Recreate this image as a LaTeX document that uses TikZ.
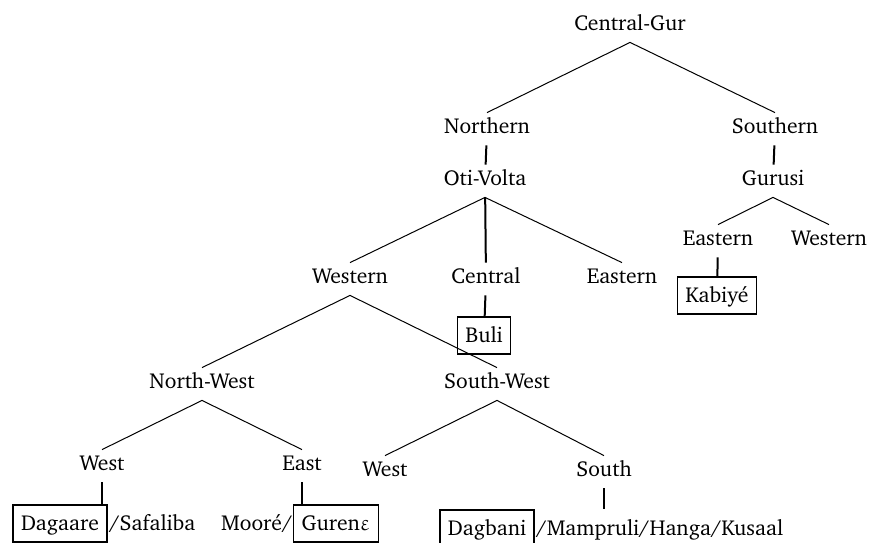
\documentclass[tikz,border=0pt]{standalone}
\usepackage[T1]{fontenc}
\usepackage{charter}
\usepackage{upgreek}
\usetikzlibrary{positioning}

\begin{document}
\begin{tikzpicture}[x=0.5pt,y=0.5pt,font=\fontsize{10.8}{13}\selectfont]
\tikzstyle{every node}+=[inner xsep=2pt,inner ysep=3pt,text height=7pt,text depth=3pt,anchor=base]
\tikzstyle{lang}=[draw,line width=0.7pt,inner xsep=4pt,inner ysep=4.5pt,text height=8pt,text depth=1.5pt]
\tikzstyle{alt}=[inner sep=0pt]
\tikzstyle{branch}=[line width=0.5pt]
\tikzstyle{stem}=[line width=1pt]
\useasboundingbox (0,0) rectangle (870,-542);
\node (cg) at (630,-30) {Central-Gur};
\node (nor) at (487,-133) {Northern};
\node (sou) at (775,-133) {Southern};
\node (oti) at (485,-185) {Oti-Volta};
\node (gus) at (773,-185) {Gurusi};
\node (geast) at (718,-245) {Eastern};
\node (gwest) at (829,-245) {Western};
\node [lang] (kab) at (717,-302) {Kabiy\'e};
\node (west) at (350,-283) {Western};
\node (cent) at (486,-283) {Central};
\node (east) at (622,-283) {Eastern};
\node [lang] (buli) at (484,-342) {Buli};
\node (nw) at (202,-388) {North-West};
\node (sw) at (497,-388) {South-West};
\node (nwwest) at (102,-470) {West};
\node (nweast) at (302,-470) {East};
\node (swwest) at (385,-476) {West};
\node (swsouth) at (604,-476) {South};
\node [lang] (dag) at (60,-530) {Dagaare};
\node [alt,anchor=base west] (saf) at ([xshift=0.6pt]dag.base east) {/Safaliba};
\node [lang] (gur) at (336,-530) {Guren$\upvarepsilon$};
\node [alt,anchor=base east] (moo) at (gur.base west) {Moor\'e/};
\node [lang] (dgb) at (487,-535) {Dagbani};
\node [alt,anchor=base west] (mam) at ([xshift=0.6pt]dgb.base east) {/Mampruli/Hanga/Kusaal};
\draw [branch] (nor.north) -- (cg.south) -- (sou.north);
\draw [stem] (nor) -- (oti);
\draw [stem] (sou) -- (gus);
\draw [branch] (geast.north) -- (gus.south) -- (gwest.north);
\draw [stem] (geast) -- (kab);
\draw [branch] (west.north) -- (oti.south) -- (east.north);
\draw [stem] (oti) -- (cent);
\draw [stem] (cent) -- (buli);
\draw [branch] (nw.north) -- (west.south) -- (sw.north);
\draw [branch] (nwwest.north) -- (nw.south) -- (nweast.north);
\draw [branch] (swwest.north) -- (sw.south) -- (swsouth.north);
\draw [stem] (nwwest.south) -- (nwwest.south |- dag.north);
\draw [stem] (nweast.south) -- (nweast.south |- gur.north);
\draw [stem] (swsouth.south) -- (swsouth.south |- dgb.north);
\end{tikzpicture}
\end{document}
